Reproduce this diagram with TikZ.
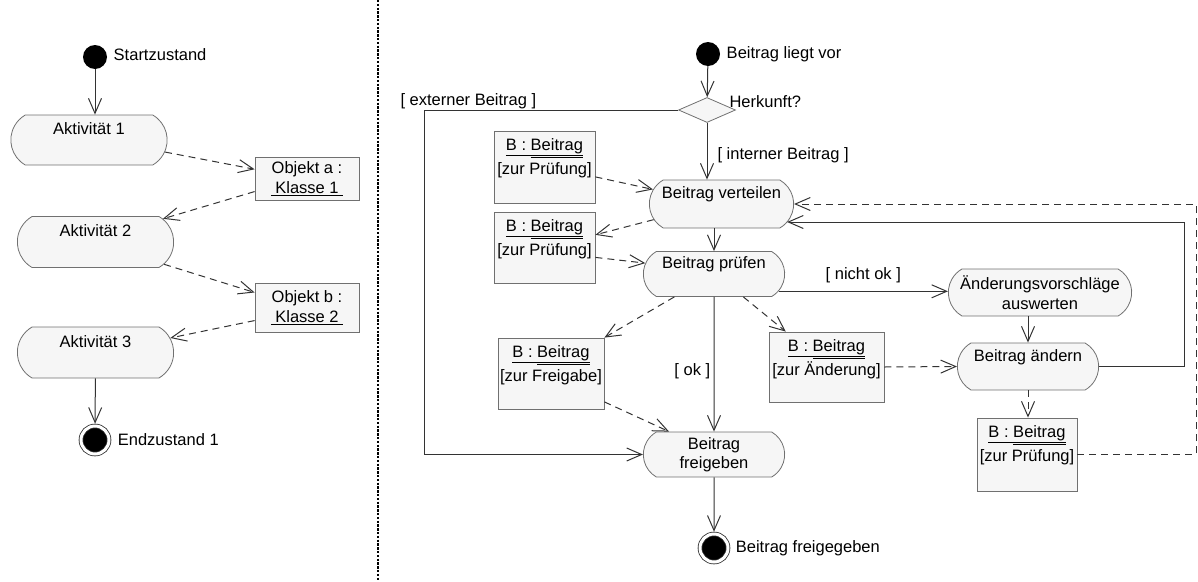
\documentclass[tikz,border=0pt]{standalone}
\usepackage{fontspec}
\setmainfont{Liberation Sans}
\usetikzlibrary{shapes.misc,shapes.geometric,arrows.meta,positioning,calc}

\definecolor{linegray}{HTML}{333333}
\definecolor{boxgray}{HTML}{707070}
\definecolor{fillgray}{HTML}{F6F6F6}

\newcommand{\bname}{\underline{B : Beitrag}\llap{\raisebox{-2pt}{\underline{\phantom{Beitrag}}}}}

\tikzset{
    every node/.style={font=\fontsize{16.5}{19.5}\selectfont},
    act/.style={rounded rectangle, rounded rectangle arc length=120, draw=boxgray, fill=fillgray, line width=0.8pt, text height=12pt, text depth=23pt},
    acttwo/.style={rounded rectangle, rounded rectangle arc length=120, draw=boxgray, fill=fillgray, line width=0.8pt, align=center},
    obj/.style={rectangle, draw=boxgray, fill=fillgray, line width=0.8pt, align=center, inner sep=0pt},
    objtxt/.style={anchor=north, align=center, inner sep=2.5pt, yshift=-5pt, font=\fontsize{16.5}{24}\selectfont},
    startst/.style={circle, fill=black, minimum size=24pt, inner sep=0pt},
    endst/.style={circle, fill=black, draw=linegray, line width=0.8pt, double=white, double distance=3pt, minimum size=28pt, inner sep=0pt, outer sep=2.3pt},
    entscheid/.style={diamond, draw=boxgray, fill=fillgray, line width=0.8pt, minimum width=57pt, minimum height=25pt, inner sep=0pt},
    flow/.style={draw=linegray, line width=1pt, -{Straight Barb[length=15pt,width=13pt]}},
    dep/.style={flow, dash pattern=on 7pt off 5pt},
    trenner/.style={draw=black, line width=2.4pt, dash pattern=on 2.4pt off 1.4pt}
}

\begin{document}
\begin{tikzpicture}[x=1pt, y=-1pt]
    \useasboundingbox (0,0) rectangle (1198,581);

    % Trennlinie
    \coordinate (t1) at (378,0);
    \coordinate (t2) at (378,581);
    \draw[trenner] (t1) -- (t2);

    % Linkes Diagramm
    \node[startst] (s1) at (95,57) {};
    \node[right=3pt of s1, yshift=2pt] (s1txt) {Startzustand};
    \node[act, minimum width=163pt, minimum height=50pt] (a1) at (89,140) {Aktivität 1};
    \node[act, minimum width=163pt, minimum height=51pt] (a2) at (95.5,242) {Aktivität 2};
    \node[act, minimum width=163pt, minimum height=51pt] (a3) at (95.5,352.5) {Aktivität 3};
    \node[obj, minimum width=104pt, minimum height=43pt] (oa) at (307,178.5) {Objekt a :\\\underline{\ Klasse 1\ }};
    \node[obj, minimum width=104pt, minimum height=49pt] (ob) at (307,307.5) {Objekt b :\\\underline{\ Klasse 2\ }};
    \node[endst] (e1) at (95,440) {};
    \node[right=3pt of e1] (e1txt) {Endzustand 1};

    \draw[flow] (s1) -- (s1 |- a1.north);
    \draw[dep] (a1.-9) -- (oa.170);
    \draw[dep] (oa.194) -- (a2.19);
    \draw[dep] (a2.-18) -- (ob.164);
    \draw[dep] (ob.194) -- (a3.11);
    \draw[flow] (a3) -- (e1);

    % Rechtes Diagramm
    \node[startst] (s2) at (708,54) {};
    \node[right=3pt of s2] (s2txt) {Beitrag liegt vor};
    \node[entscheid] (d) at (707,110) {};
    \node[anchor=west] (herk) at (726,102) {Herkunft?};
    \node[act, minimum width=151pt, minimum height=48pt] (v) at (721.5,204) {Beitrag verteilen};
    \node[act, minimum width=148pt, minimum height=45pt] (pr) at (714,274) {Beitrag prüfen};
    \node[acttwo, minimum width=190pt, minimum height=47pt] (aw) at (1040,292.5) {Änderungsvorschläge\\auswerten};
    \node[act, minimum width=148pt, minimum height=47pt] (ae) at (1028,366.5) {Beitrag ändern};
    \node[acttwo, minimum width=148pt, minimum height=45pt] (fr) at (714,454.5) {Beitrag\\freigeben};
    \node[endst] (e2) at (714,548) {};
    \node[right=2pt of e2] (e2txt) {Beitrag freigegeben};

    % Objekte B : Beitrag
    \node[obj, minimum width=101pt, minimum height=72pt, label={[objtxt]north:\bname\\{}[zur Prüfung]}] (p1) at (544.5,167) {};
    \node[obj, minimum width=101pt, minimum height=71pt, label={[objtxt]north:\bname\\{}[zur Prüfung]}] (p2) at (544.5,247.5) {};
    \node[obj, minimum width=106pt, minimum height=71pt, label={[objtxt]north:\bname\\{}[zur Freigabe]}] (fg) at (551,373.5) {};
    \node[obj, minimum width=115pt, minimum height=70pt, label={[objtxt]north:\bname\\{}[zur Änderung]}] (p3) at (826.5,367) {};
    \node[obj, minimum width=100pt, minimum height=73pt, label={[objtxt]north:\bname\\{}[zur Prüfung]}] (p4) at (1027,454.5) {};

    % Hilfspunkte
    \coordinate (ext) at (424,110);
    \coordinate (sl) at (1184,300);
    \coordinate (dl) at (1196,300);

    % Kontrollfluss
    \draw[flow] (s2) -- (d);
    \draw[flow] (d.south) -- (d.south |- v.north);
    \node[anchor=west] (intern) at (714,155) {[ interner Beitrag ]};
    \draw[flow] (d.west) -- (ext) |- (fr.west);
    \node[anchor=west] (extern) at (397,101) {[ externer Beitrag ]};
    \draw[flow] (pr.north |- v.south) -- (pr.north);
    \draw[flow] (pr.-15) -- (pr.-15 -| aw.west) node[midway, above=5pt] {[ nicht ok ]};
    \draw[flow] (ae.north |- aw.south) -- (ae.north);
    \draw[flow] (ae.east) -| (sl) |- ($(v.east)+(-7,18)$);
    \draw[flow] (pr) -- (fr) node[pos=0.55, left] {[ ok ]};
    \draw[flow] (fr) -- (e2);

    % Objektfluss
    \draw[dep] (p1.-11) -- (v.168);
    \draw[dep] (v.193) -- (p2.14);
    \draw[dep] (p2.-11) -- (pr.171);
    \draw[dep] (pr.210) -- (fg.north east);
    \draw[dep] (fg.-28) -- (fr.153);
    \draw[dep] (pr.-38) -- (p3.139);
    \draw[dep] (p3.east) -- (ae.west);
    \draw[dep] (ae.south) -- (ae.south |- p4.north);
    \draw[dep] (p4.east) -| (dl) |- (v.east);
\end{tikzpicture}
\end{document}
